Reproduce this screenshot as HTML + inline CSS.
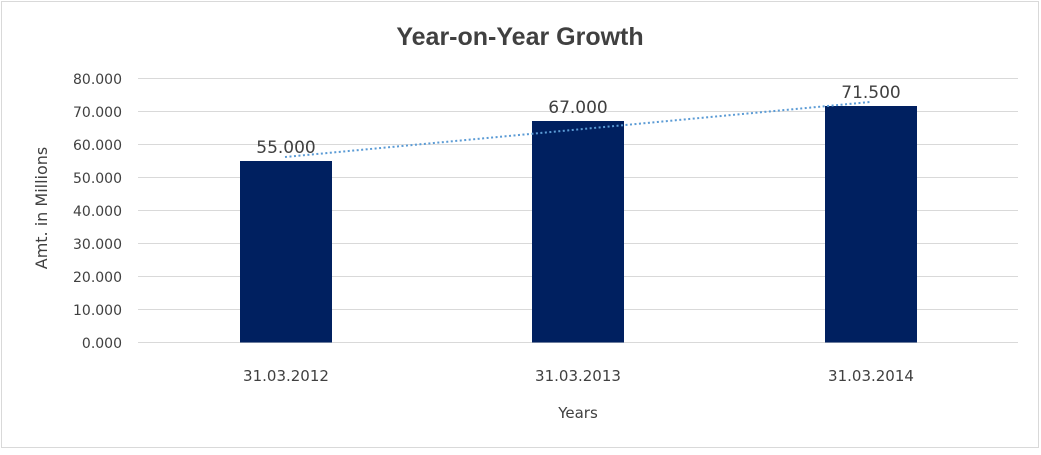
<!DOCTYPE html><html><head><style>body{margin:0;background:#fff}</style></head><body>
<svg width="1041" height="450" xmlns="http://www.w3.org/2000/svg" font-family="DejaVu Sans, sans-serif">
<rect x="1.5" y="1.5" width="1037" height="446" fill="#fff" stroke="#d9d9d9" stroke-width="1"/>
<text x="520" y="45" text-anchor="middle" font-size="25" font-weight="bold" fill="#404040" font-family="Liberation Sans, sans-serif">Year-on-Year Growth</text>
<g stroke="#d9d9d9" stroke-width="1">
<line x1="138" x2="1018" y1="78.5" y2="78.5"/><line x1="138" x2="1018" y1="111.5" y2="111.5"/>
<line x1="138" x2="1018" y1="144.5" y2="144.5"/><line x1="138" x2="1018" y1="177.5" y2="177.5"/>
<line x1="138" x2="1018" y1="210.5" y2="210.5"/><line x1="138" x2="1018" y1="243.5" y2="243.5"/>
<line x1="138" x2="1018" y1="276.5" y2="276.5"/><line x1="138" x2="1018" y1="309.5" y2="309.5"/>
<line x1="138" x2="1018" y1="342.5" y2="342.5"/></g>
<g font-size="14" fill="#404040" text-anchor="end">
<text x="122" y="84">80.000</text><text x="122" y="117">70.000</text><text x="122" y="150">60.000</text>
<text x="122" y="183">50.000</text><text x="122" y="216">40.000</text><text x="122" y="249">30.000</text>
<text x="122" y="282">20.000</text><text x="122" y="315">10.000</text><text x="122" y="348">0.000</text></g>
<g fill="#002060"><rect x="240" y="161" width="92" height="181.5"/><rect x="532" y="121" width="92" height="221.5"/><rect x="825" y="106" width="92" height="236.5"/></g>
<line x1="285" y1="157" x2="870" y2="102" stroke="#5b9bd5" stroke-width="2" stroke-dasharray="2,2.5"/>
<g font-size="16" fill="#404040" text-anchor="middle">
<text x="286" y="153" font-size="17">55.000</text><text x="578" y="113" font-size="17">67.000</text><text x="871" y="98" font-size="17">71.500</text>
<text x="286" y="381" font-size="15">31.03.2012</text><text x="578" y="381" font-size="15">31.03.2013</text><text x="871" y="381" font-size="15">31.03.2014</text>
<text x="578" y="418" font-size="15">Years</text>
<text transform="translate(47,208) rotate(-90)">Amt. in Millions</text></g>
</svg></body></html>
